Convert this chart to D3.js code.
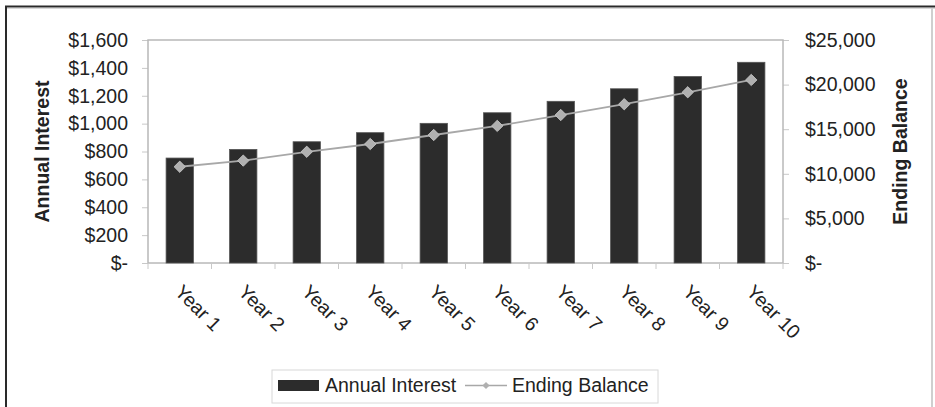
<!DOCTYPE html>
<html>
<head>
<meta charset="utf-8">
<script src="https://cdn.jsdelivr.net/npm/d3@7"></script>
<style>
  html, body { margin: 0; padding: 0; background: #fff; }
  svg { display: block; font-family: Arial, "Liberation Sans", sans-serif; }
</style>
</head>
<body>
<svg id="chart" width="935" height="407"></svg>
<script>
const categories = ["Year 1","Year 2","Year 3","Year 4","Year 5","Year 6","Year 7","Year 8","Year 9","Year 10"];
const annualInterest = [753, 815, 870, 935, 1002, 1078, 1160, 1250, 1338, 1440];
const endingBalance = [10790, 11480, 12470, 13340, 14350, 15370, 16590, 17800, 19140, 20520];
const leftTicks = [0, 200, 400, 600, 800, 1000, 1200, 1400, 1600];
const rightTicks = [0, 5000, 10000, 15000, 20000, 25000];
const seriesNames = ["Annual Interest", "Ending Balance"];
const axisTitles = ["Annual Interest", "Ending Balance"];

const svg = d3.select("#chart");
const W = 935, H = 407;
const m = {left: 148, right: 783, top: 40, bottom: 263};

svg.append("rect").attr("x",0).attr("y",0).attr("width",W).attr("height",H).attr("fill","#fff");
// outer frame
svg.append("line").attr("x1",5).attr("x2",W).attr("y1",6.5).attr("y2",6.5).attr("stroke","#2a2a2a").attr("stroke-width",2);
svg.append("line").attr("x1",6).attr("x2",6).attr("y1",6).attr("y2",H).attr("stroke","#2a2a2a").attr("stroke-width",2);
svg.append("line").attr("x1",7).attr("x2",W).attr("y1",8.5).attr("y2",8.5).attr("stroke","#d8d8d8").attr("stroke-width",1);
svg.append("line").attr("x1",932).attr("x2",932).attr("y1",8).attr("y2",H).attr("stroke","#cfcfcf").attr("stroke-width",2);

const x = d3.scaleBand().domain(categories).range([m.left, m.right]).paddingInner(0.57).paddingOuter(0.285);
const xc = d3.scaleBand().domain(categories).range([m.left, m.right]);
const yL = d3.scaleLinear().domain([0,1600]).range([m.bottom, m.top]);
const yR = d3.scaleLinear().domain([0,25000]).range([m.bottom, m.top]);

const money = v => v === 0 ? "$-" : "$" + d3.format(",")(v);
const fs = 19.5;

// left axis
const gL = svg.append("g").attr("transform",`translate(${m.left},0)`)
  .call(d3.axisLeft(yL).tickValues(leftTicks).tickFormat(money).tickSize(6).tickPadding(14));
gL.select(".domain").remove();
gL.selectAll(".tick line").attr("stroke","#c8c8c8");
gL.selectAll(".tick text").attr("font-size",fs).attr("fill","#222").attr("font-family","Arial, 'Liberation Sans', sans-serif");

// right axis
const gR = svg.append("g").attr("transform",`translate(${m.right},0)`)
  .call(d3.axisRight(yR).tickValues(rightTicks).tickFormat(money).tickSize(6).tickPadding(16));
gR.select(".domain").remove();
gR.selectAll(".tick line").attr("stroke","#c8c8c8");
gR.selectAll(".tick text").attr("font-size",fs).attr("fill","#222").attr("font-family","Arial, 'Liberation Sans', sans-serif");

// plot frame
svg.append("rect").attr("x",m.left).attr("y",m.top).attr("width",m.right-m.left).attr("height",m.bottom-m.top)
  .attr("fill","none").attr("stroke","#b8b8b8").attr("stroke-width",1.5);

// x-axis category boundary ticks
const bounds = categories.map(c => xc(c)).concat([m.right]);
svg.append("g").selectAll("line").data(bounds).join("line")
  .attr("x1",d=>d).attr("x2",d=>d).attr("y1",m.bottom).attr("y2",m.bottom+6)
  .attr("stroke","#c8c8c8");

// bars
svg.append("g").selectAll("rect").data(annualInterest).join("rect")
  .attr("x",(d,i)=>x(categories[i])).attr("width",x.bandwidth())
  .attr("y",d=>yL(d)).attr("height",d=>yL(0)-yL(d))
  .attr("fill","#2c2c2c").attr("stroke","#555").attr("stroke-width",0.8);

// line
const cx = i => xc(categories[i]) + xc.bandwidth()/2;
const line = d3.line().x((d,i)=>cx(i)).y(d=>yR(d));
svg.append("path").datum(endingBalance).attr("d",line).attr("fill","none").attr("stroke","#a8a8a8").attr("stroke-width",1.8);
const marker = d3.symbol().type(d3.symbolSquare).size(64);
svg.append("g").selectAll("path").data(endingBalance).join("path")
  .attr("d",marker).attr("transform",(d,i)=>`translate(${cx(i)},${yR(d)}) rotate(45)`)
  .attr("fill","#b0b0b0").attr("stroke","#c8c8c8").attr("stroke-width",0.8);

// x labels
svg.append("g").selectAll("text").data(categories).join("text")
  .attr("transform",(d,i)=>`translate(${cx(i)-6},${293}) rotate(45)`)
  .attr("font-size",fs).attr("fill","#222").text(d=>d);

// axis titles
svg.append("text").attr("transform",`translate(49,${(m.top+m.bottom)/2}) rotate(-90)`)
  .attr("text-anchor","middle").attr("font-size",fs).attr("font-weight","bold").attr("fill","#222").text(axisTitles[0]);
svg.append("text").attr("transform",`translate(907,${(m.top+m.bottom)/2}) rotate(-90)`)
  .attr("text-anchor","middle").attr("font-size",fs).attr("font-weight","bold").attr("fill","#222").text(axisTitles[1]);

// legend
const lg = svg.append("g");
lg.append("rect").attr("x",272).attr("y",370).attr("width",386).attr("height",33).attr("fill","#fff").attr("stroke","#d8d8d8");
lg.append("rect").attr("x",278).attr("y",380).attr("width",41).attr("height",11).attr("fill","#2c2c2c");
lg.append("text").attr("x",325).attr("y",392).attr("font-size",fs).attr("fill","#222").text(seriesNames[0]);
lg.append("line").attr("x1",465).attr("x2",507).attr("y1",385.5).attr("y2",385.5).attr("stroke","#a8a8a8").attr("stroke-width",1.5);
lg.append("path").attr("d",d3.symbol().type(d3.symbolSquare).size(26)).attr("transform","translate(486,385.5) rotate(45)").attr("fill","#b0b0b0");
lg.append("text").attr("x",512).attr("y",392).attr("font-size",fs).attr("fill","#222").text(seriesNames[1]);
</script>
</body>
</html>
